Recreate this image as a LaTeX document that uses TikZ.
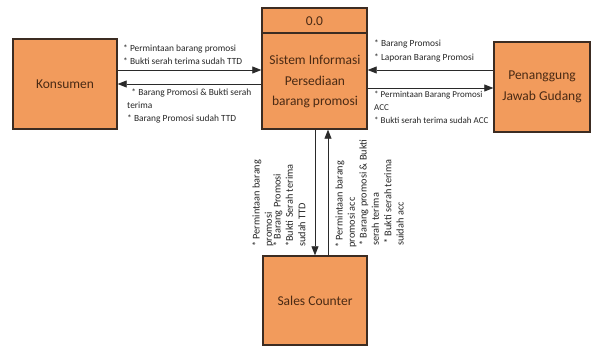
\documentclass[tikz,border=0pt]{standalone}
\usepackage{fontspec}
\setmainfont{Carlito}
\usetikzlibrary{arrows.meta}
\definecolor{boxfill}{HTML}{F29B5C}
\definecolor{boxline}{HTML}{3C2C22}
\definecolor{boxtext}{HTML}{4A2A14}
\definecolor{flowline}{HTML}{2A2A2A}
\tikzset{
  entity/.style={draw=boxline, line width=1.4pt, fill=boxfill, text=boxtext,
    font=\fontsize{13.5}{20.5}\selectfont, align=center, inner sep=0pt},
  flow/.style={draw=flowline, line width=0.8pt, -{Triangle[length=9pt,width=7pt]}},
  hlabel/.style={font=\fontsize{9.4}{12.8}\selectfont, align=left, inner sep=0pt, text=black!85},
  vlabel/.style={font=\fontsize{10.3}{12.4}\selectfont, align=left, inner sep=0pt, text=black!85,
    rotate=90, anchor=north west},
}
\begin{document}
\begin{tikzpicture}[x=1pt,y=-1pt]
\useasboundingbox (0,0) rectangle (592,347);

% external entities and the process box
\node[entity, minimum width=104pt, minimum height=90pt] (kons) at (65,84) {Konsumen};
\node[entity, minimum width=96pt, minimum height=90pt] (pjg) at (542,87) {Penanggung\\Jawab Gudang};
\node[entity, minimum width=104pt, minimum height=89pt] (sales) at (315,300.5) {Sales Counter};
\node[entity, minimum width=105pt, minimum height=121pt] (proc) at (314.5,68.5) {};
\draw[boxline, line width=1.2pt] (proc.west |- 0,33) -- (proc.east |- 0,33);
\node[text=boxtext, font=\fontsize{13.5}{15}\selectfont] (procid) at (314.5,21) {0.0};
\node[text=boxtext, font=\fontsize{13.5}{20.5}\selectfont, align=center] (procname) at (315,82)
  {Sistem Informasi\\Persediaan\\barang promosi};

% data flows: Konsumen <-> process
\coordinate (k1) at (kons.east |- 0,70);
\coordinate (k2) at (kons.east |- 0,84);
\draw[flow] (k1) -- (proc.west |- k1);
\draw[flow] (proc.west |- k2) -- (k2);
\node[hlabel, anchor=north west] (lk1) at (123,45) {* Permintaan barang promosi\\* Bukti serah terima sudah TTD};
\node[hlabel, anchor=north west] (lk2) at (127,89) {\ \ * Barang Promosi \& Bukti serah\\terima\\* Barang Promosi sudah TTD};

% data flows: Penanggung Jawab Gudang <-> process
\coordinate (g1) at (pjg.west |- 0,70);
\coordinate (g2) at (pjg.west |- 0,88);
\draw[flow] (g1) -- (proc.east |- g1);
\draw[flow] (proc.east |- g2) -- (g2);
\node[hlabel, anchor=north west, font=\fontsize{9.4}{13.5}\selectfont] (lg1) at (374,40) {* Barang Promosi\\* Laporan Barang Promosi};
\node[hlabel, anchor=north west, font=\fontsize{9}{12.8}\selectfont] (lg2) at (374,91) {* Permintaan Barang Promosi\\ACC\\* Bukti serah terima sudah ACC};

% data flows: process <-> Sales Counter
\coordinate (s1) at (315,0);
\coordinate (s2) at (328,0);
\draw[flow] (proc.south -| s1) -- (sales.north -| s1);
\draw[flow] (sales.north -| s2) -- (proc.south -| s2);
\node[vlabel] (ls1a) at (252,247) {* Permintaan barang\\promosi};
\node[vlabel] (ls1b) at (273,247) {* Barang Promosi\\*Bukti Serah terima\\sudah TTD};
\node[vlabel] (ls2a) at (335,248) {* Permintaan barang\\promosi acc};
\node[vlabel] (ls2b) at (359,246) {* Barang promosi \& Bukti\\serah terima\\\ * Bukti serah terima\\suidah acc};
\end{tikzpicture}
\end{document}
